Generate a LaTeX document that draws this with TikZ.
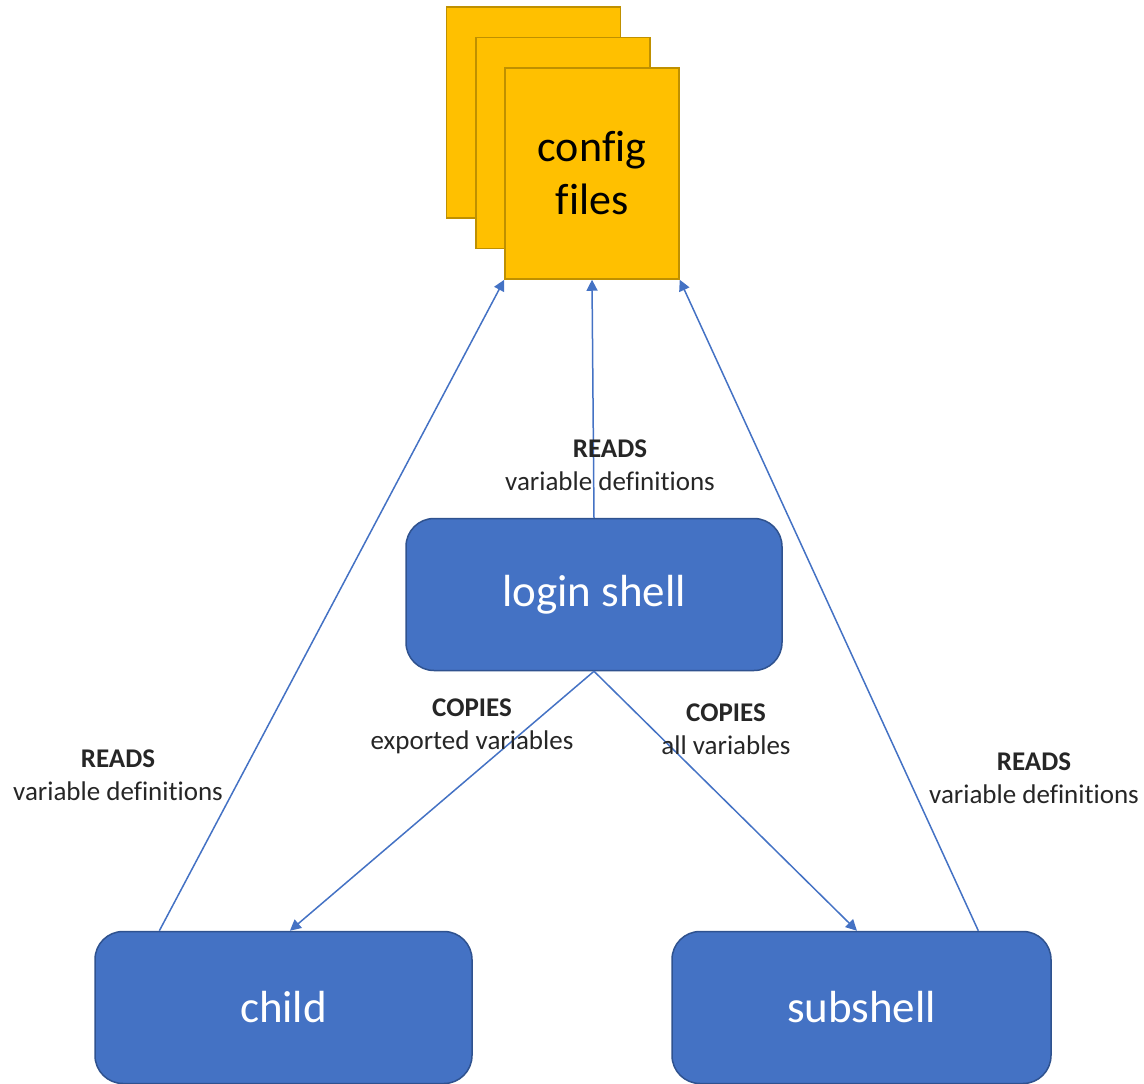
\documentclass[tikz,border=0pt]{standalone}
\usepackage{fontspec}
\setmainfont{Carlito}[Ligatures=NoCommon]
\usetikzlibrary{arrows.meta,calc}
\definecolor{cfgfill}{HTML}{FFC000}
\definecolor{cfgdraw}{HTML}{BF9000}
\definecolor{boxfill}{HTML}{4472C4}
\definecolor{boxdraw}{HTML}{2F528F}
\definecolor{lbl}{HTML}{262626}
\tikzset{
  page/.style={draw=cfgdraw, line width=1.5pt, fill=cfgfill, minimum width=174pt, minimum height=211pt, inner sep=0pt, align=center, font=\fontsize{44}{53}\selectfont, text=black},
  shellbox/.style={draw=boxdraw, line width=1.5pt, fill=boxfill, rounded corners=28pt, minimum height=152pt, inner sep=0pt, text=white, font=\fontsize{45}{53}\selectfont},
  conn/.style={draw=boxfill, line width=1.5pt, -{Triangle[width=11pt,length=11pt]}},
  lab/.style={align=center, text=lbl, font=\fontsize{27}{33}\selectfont, inner sep=0pt}
}
\begin{document}
\begin{tikzpicture}[x=1pt,y=-1pt]
\useasboundingbox (0,0) rectangle (1144,1084);
\node[page] (cfgc) at (533.5,112.5) {};
\node[page] (cfgb) at (563,143) {};
\node[page] (cfg) at (592,173.5) {config\\files};
\node[shellbox, minimum width=376pt] (login) at (594,594.5) {login shell};
\node[shellbox, minimum width=377pt] (child) at (283.5,1007.5) {child};
\node[shellbox, minimum width=379pt] (sub) at (861.5,1007.5) {subshell};
\draw[conn] ($(child.north west)!0.172!(child.north east)$) -- (cfg.south west);
\draw[conn] (login.north) -- (cfg.south);
\draw[conn] ($(sub.north west)!0.807!(sub.north east)$) -- (cfg.south east);
\draw[conn] (login.south) -- ($(child.north west)!0.517!(child.north east)$);
\draw[conn] (login.south) -- ($(sub.north west)!0.488!(sub.north east)$);
\node[lab] (l1) at (610,465) {\textbf{READS}\\variable definitions};
\node[lab] (l2) at (118,775) {\textbf{READS}\\variable definitions};
\node[lab] (l3) at (472,726) {\textbf{COPIES}\\exported variables};
\node[lab] (l4) at (726,729) {\textbf{COPIES}\\all variables};
\node[lab] (l5) at (1034,778) {\textbf{READS}\\variable definitions};
\end{tikzpicture}
\end{document}
